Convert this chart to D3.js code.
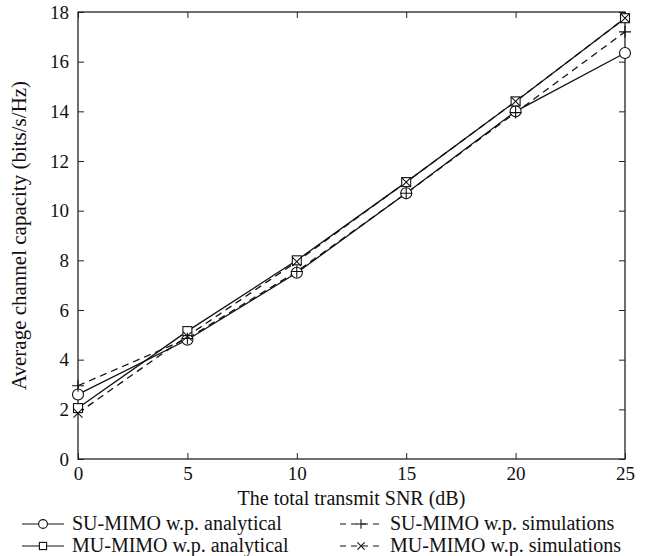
<!DOCTYPE html>
<html>
<head>
<meta charset="utf-8">
<script src="https://cdn.jsdelivr.net/npm/d3@7"></script>
<style>
  body { margin: 0; background: #fff; }
  text { font-family: "Liberation Serif", "DejaVu Serif", serif; fill: #111; }
</style>
</head>
<body>
<div id="chart"></div>
<script>
// data
var snr = [0, 5, 10, 15, 20, 25];
var suAnalytical = [2.6, 4.8, 7.5, 10.7, 14.0, 16.35];
var muAnalytical = [2.05, 5.15, 8.0, 11.15, 14.4, 17.75];
var suSimulation = [2.95, 4.85, 7.55, 10.7, 13.95, 17.2];
var muSimulation = [1.85, 4.95, 7.95, 11.15, 14.4, 17.75];
var xTicks = [0, 5, 10, 15, 20, 25];
var yTicks = [0, 2, 4, 6, 8, 10, 12, 14, 16, 18];
var seriesNames = ["SU-MIMO w.p. analytical", "MU-MIMO w.p. analytical",
                   "SU-MIMO w.p. simulations", "MU-MIMO w.p. simulations"];

var width = 664, height = 556;
var margin = {top: 12, right: 39, bottom: 97, left: 78};
var w = width - margin.left - margin.right,
    h = height - margin.top - margin.bottom;

var svg = d3.select("#chart").append("svg")
  .attr("width", width).attr("height", height);

var g = svg.append("g")
  .attr("transform", "translate(" + [margin.left, margin.top] + ")");

var x = d3.scaleLinear().domain([0, 25]).range([0, w]);
var y = d3.scaleLinear().domain([0, 18]).range([h, 0]);

var axisColor = "#222";

// axes: ticks inward, box all round
function styleAxis(sel) {
  sel.select(".domain").remove();
  sel.selectAll(".tick line").attr("stroke", axisColor).attr("stroke-width", 1);
  sel.selectAll(".tick text").style("font-size", "19px");
}
g.append("g").attr("transform", "translate(0," + h + ")")
  .call(d3.axisBottom(x).tickValues(xTicks).tickSizeInner(-6).tickSizeOuter(0).tickPadding(8))
  .call(styleAxis);
g.append("g")
  .call(d3.axisLeft(y).tickValues(yTicks).tickSizeInner(-6).tickSizeOuter(0).tickPadding(9))
  .call(styleAxis);
g.append("g")
  .call(d3.axisTop(x).tickValues(xTicks).tickSizeInner(-6).tickSizeOuter(0).tickFormat(""))
  .call(styleAxis);
g.append("g").attr("transform", "translate(" + w + ",0)")
  .call(d3.axisRight(y).tickValues(yTicks).tickSizeInner(-6).tickSizeOuter(0).tickFormat(""))
  .call(styleAxis);
g.append("rect").attr("width", w).attr("height", h)
  .attr("fill", "none").attr("stroke", axisColor).attr("stroke-width", 1.3);

// markers
function drawMarker(sel, kind, cx, cy, s) {
  s = s || 1;
  var m = sel.append("g").attr("transform", "translate(" + [cx, cy] + ") scale(" + s + ")")
    .attr("fill", "none").attr("stroke", "#111").attr("stroke-width", 1.1 / s);
  if (kind == "circle") m.append("circle").attr("r", 5.5).attr("fill", "#fff");
  if (kind == "square") m.append("rect").attr("x", -4.5).attr("y", -4.5)
    .attr("width", 9).attr("height", 9).attr("fill", "#fff");
  if (kind == "plus") m.append("path").attr("d", "M-6,0H6M0,-6V6");
  if (kind == "cross") m.append("path").attr("d", "M-4.5,-4.5L4.5,4.5M-4.5,4.5L4.5,-4.5");
}

var series = [
  {name: seriesNames[0], values: suAnalytical, marker: "circle", dash: null},
  {name: seriesNames[1], values: muAnalytical, marker: "square", dash: null},
  {name: seriesNames[2], values: suSimulation, marker: "plus", dash: "7,5"},
  {name: seriesNames[3], values: muSimulation, marker: "cross", dash: "7,5"}
];

var line = d3.line()
  .x(function(d) { return x(d[0]); })
  .y(function(d) { return y(d[1]); });

series.forEach(function(s) {
  var pts = snr.map(function(v, i) { return [v, s.values[i]]; });
  g.append("path").datum(pts)
    .attr("d", line)
    .attr("fill", "none").attr("stroke", "#111").attr("stroke-width", 1.3)
    .attr("stroke-dasharray", s.dash);
});
series.forEach(function(s) {
  snr.forEach(function(v, i) { drawMarker(g, s.marker, x(v), y(s.values[i])); });
});

// axis titles
svg.append("text")
  .attr("x", margin.left + w / 2).attr("y", 505)
  .attr("text-anchor", "middle").style("font-size", "20px")
  .text("The total transmit SNR (dB)");
svg.append("text")
  .attr("transform", "translate(26," + (margin.top + h / 2) + ") rotate(-90)")
  .attr("text-anchor", "middle").style("font-size", "21px")
  .text("Average channel capacity (bits/s/Hz)");

// legend, two columns
var legendPos = [[22, 530], [22, 552], [340, 530], [340, 552]];
series.forEach(function(s, i) {
  var lg = svg.append("g").attr("transform", "translate(" + legendPos[i] + ")");
  lg.append("line").attr("x1", 0).attr("x2", 42).attr("y1", -6).attr("y2", -6)
    .attr("stroke", "#111").attr("stroke-width", 1.2).attr("stroke-dasharray", s.dash ? "6,5" : null);
  drawMarker(lg, s.marker, 21, -6, 0.8);
  lg.append("text").attr("x", 50).attr("y", 0).style("font-size", "20px").text(s.name);
});
</script>
</body>
</html>
